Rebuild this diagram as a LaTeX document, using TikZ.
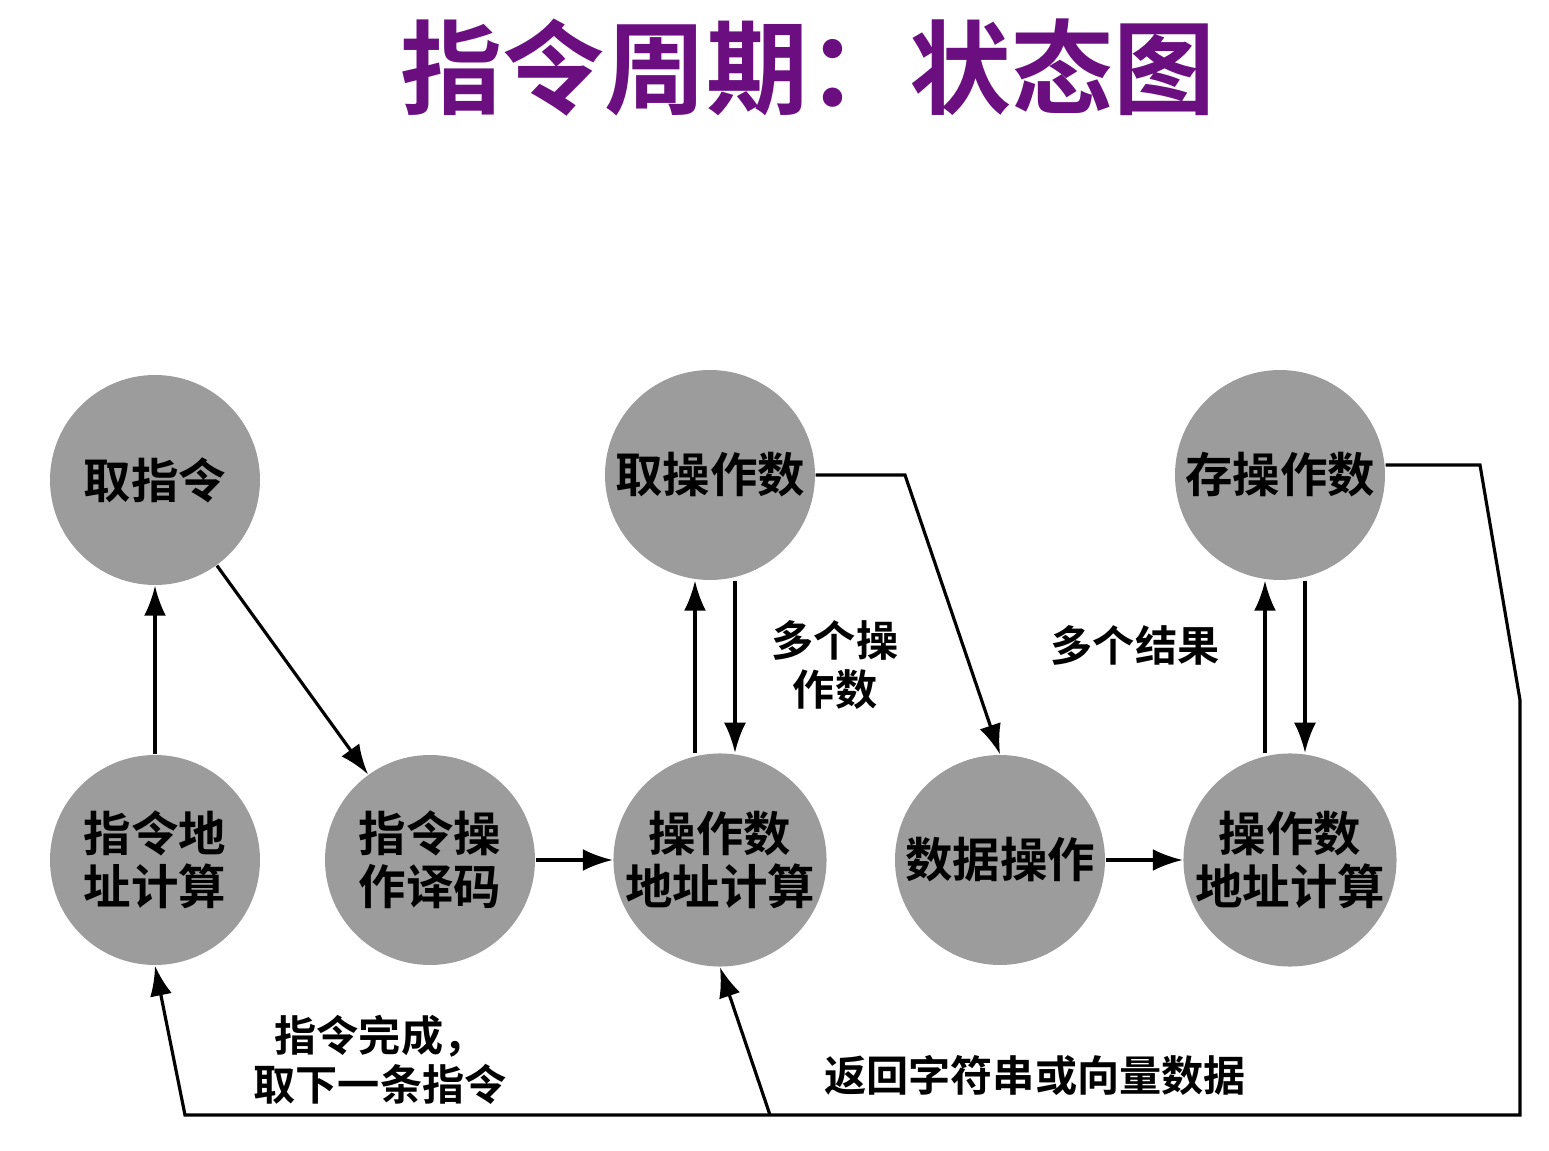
\documentclass[tikz,border=0pt]{standalone}
\usepackage{fontspec}
\newfontfamily\cjk{Noto Sans CJK SC}[BoldFont={* Bold}]
\usetikzlibrary{arrows.meta}
\definecolor{titlepurple}{HTML}{6A0E80}
\definecolor{stategray}{HTML}{9C9C9C}
\tikzset{
	state/.style={circle, fill=stategray, minimum size=2.1cm, inner sep=0pt,
		align=center, font=\cjk\bfseries\fontsize{13.5}{15}\selectfont},
	lab/.style={align=center, font=\cjk\bfseries\fontsize{12}{14}\selectfont},
	flow/.style={line width=0.9pt, -{Latex[length=3mm,width=2.2mm]}}
}
\begin{document}
\begin{tikzpicture}
	\useasboundingbox (0,0) rectangle (15.49,11.51);
	\node[font=\cjk\bfseries\fontsize{29}{32}\selectfont, text=titlepurple] (title) at (8.08,10.83) {指令周期：状态图};
	% states
	\node[state] (fetch) at (1.55,6.71) {取指令};
	\node[state] (iaddr) at (1.55,2.91) {指令地\\址计算};
	\node[state] (decode) at (4.30,2.91) {指令操\\作译码};
	\node[state] (opfetch) at (7.10,6.76) {取操作数};
	\node[state] (oaddr) at (7.20,2.91) {操作数\\地址计算};
	\node[state] (dataop) at (10.00,2.91) {数据操作};
	\node[state] (opstore) at (12.80,6.76) {存操作数};
	\node[state] (saddr) at (12.90,2.91) {操作数\\地址计算};
	% corners
	\coordinate (c1) at (9.05,6.76);
	\coordinate (c2) at (14.80,6.86);
	\coordinate (c3) at (15.20,4.51);
	\coordinate (c4) at (15.20,0.36);
	\coordinate (c5) at (7.70,0.36);
	\coordinate (c6) at (1.85,0.36);
	% arrows
	\draw[flow] (iaddr) -- (fetch);
	\draw[flow] (fetch) -- (decode);
	\draw[flow] (decode) -- (oaddr);
	\draw[flow] ([xshift=-2.5mm]oaddr.north) -- ([xshift=-2.5mm]oaddr.north |- opfetch.south);
	\draw[flow] ([xshift=2.5mm]opfetch.south) -- ([xshift=2.5mm]opfetch.south |- oaddr.north);
	\draw[flow] (opfetch.east) -- (c1) -- (dataop.north);
	\draw[flow] (dataop) -- (saddr);
	\draw[flow] ([xshift=-2.5mm]saddr.north) -- ([xshift=-2.5mm]saddr.north |- opstore.south);
	\draw[flow] ([xshift=2.5mm]opstore.south) -- ([xshift=2.5mm]opstore.south |- saddr.north);
	\draw[flow] ([yshift=1mm]opstore.east) -- (c2) -- (c3) -- (c4) -- (c6) -- (iaddr.south);
	\draw[flow] (c5) -- (oaddr.south);
	% labels
	\node[lab] (multiop) at (8.35,4.86) {多个操\\作数};
	\node[lab] (multires) at (11.35,5.06) {多个结果};
	\node[lab] (nextins) at (3.80,0.91) {指令完成，\\取下一条指令};
	\node[lab] (vector) at (10.35,0.76) {返回字符串或向量数据};
\end{tikzpicture}
\end{document}
